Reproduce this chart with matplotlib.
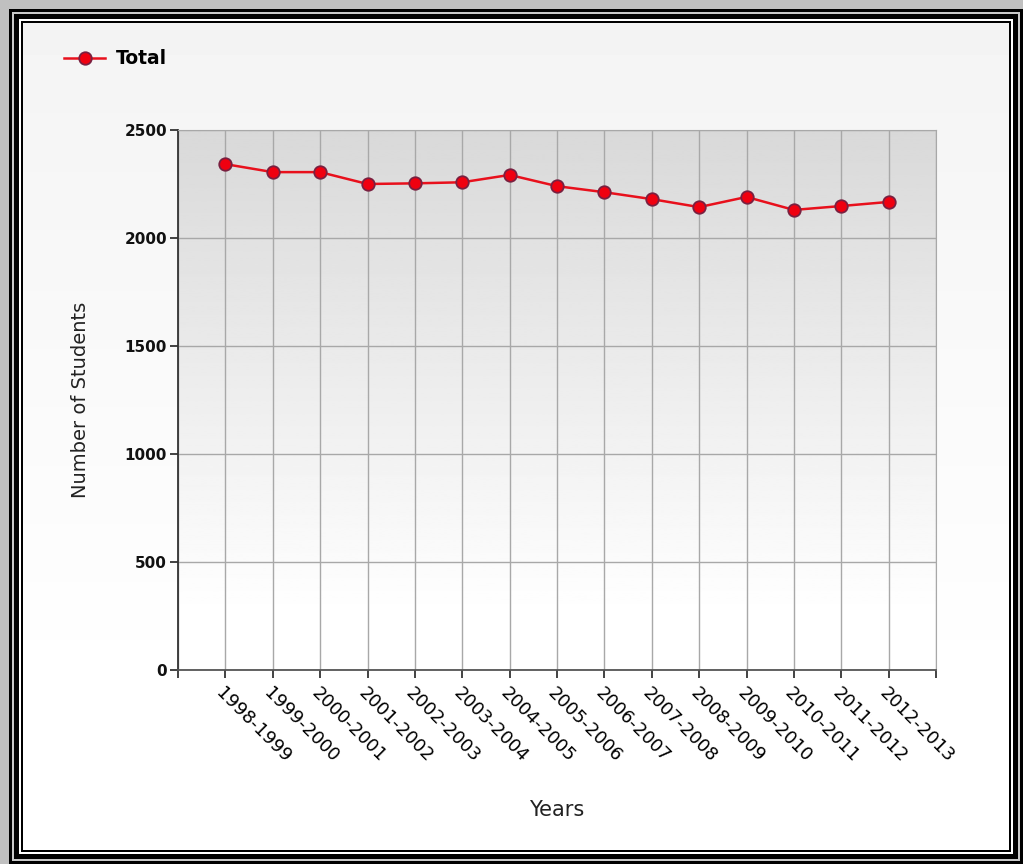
import numpy as np
import matplotlib
matplotlib.use("Agg")
import matplotlib.pyplot as plt
from matplotlib.patches import Rectangle

# Datos
years = ["1998-1999", "1999-2000", "2000-2001", "2001-2002", "2002-2003",
         "2003-2004", "2004-2005", "2005-2006", "2006-2007", "2007-2008",
         "2008-2009", "2009-2010", "2010-2011", "2011-2012", "2012-2013"]
total = [2342, 2305, 2305, 2250, 2253, 2258, 2292, 2240, 2212, 2180,
         2143, 2190, 2130, 2148, 2167]
y_ticks = [0, 500, 1000, 1500, 2000, 2500]

W, H = 1023, 864
fig = plt.figure(figsize=(W / 100, H / 100), dpi=100)
fig.patch.set_facecolor('#c0c0c0')


def px_rect(x0, y0, x1, y1, color, z):
    # rectangulo en pixeles (origen arriba a la izquierda)
    r = Rectangle((x0 / W, 1 - y1 / H), (x1 - x0) / W, (y1 - y0) / H,
                  transform=fig.transFigure, facecolor=color,
                  edgecolor='none', zorder=z)
    fig.patches.append(r)


# Marco
ox0, oy0, ox1, oy1 = 9, 9, W, H
layers = [(0, 'black'), (3, '#c8c8c8'), (5, 'black'), (10, 'white'), (12, 'black')]
for i, (inset, col) in enumerate(layers):
    px_rect(ox0 + inset, oy0 + inset, ox1 - inset, oy1 - inset, col, -20 + i)

# Fondo con degradado
cx0, cy0, cx1, cy1 = ox0 + 14, oy0 + 14, ox1 - 14, oy1 - 14
bg = fig.add_axes([cx0 / W, 1 - cy1 / H, (cx1 - cx0) / W, (cy1 - cy0) / H], zorder=-5)
t = np.linspace(0, 1, 256).reshape(-1, 1)
grad = np.clip(0.955 + 0.045 * t / 0.82, 0, 1)
bg.imshow(grad, cmap='gray', vmin=0, vmax=1, aspect='auto', extent=[0, 1, 0, 1])
bg.set_axis_off()

# Grafica principal
ax = fig.add_axes([178 / W, 1 - 670 / H, 758 / W, 540 / H])
ax.set_facecolor('none')
pgrad = np.clip(0.85 + 0.15 * t / 0.9, 0, 1)
ax.imshow(pgrad, cmap='gray', vmin=0, vmax=1, aspect='auto',
          extent=[0, 1, 0, 1], transform=ax.transAxes, zorder=0)

x = np.arange(len(years))
ax.plot(x, total, color='#e8101c', lw=1.8, marker='o', markersize=9,
        markerfacecolor='#f00010', markeredgecolor='#7a2040',
        markeredgewidth=1.3, label='Total', zorder=3)

ax.set_xlim(-1, len(years))
ax.set_ylim(0, 2500)
ax.set_xticks(np.arange(-1, len(years) + 1))
ax.set_xticklabels([''] + years + [''], rotation=-45, ha='left', va='top',
                   rotation_mode='anchor', fontsize=13, color='#000000')
ax.set_yticks(y_ticks)
ax.set_yticklabels([str(v) for v in y_ticks], fontsize=11, fontweight='bold',
                   color='#111111')
ax.tick_params(axis='both', direction='out', length=6, width=1.2, color='#222222')
ax.tick_params(axis='x', pad=4)
ax.tick_params(axis='y', pad=2)
ax.grid(True, color='#a8a8a8', lw=1)
ax.set_axisbelow(True)

for side in ['top', 'right']:
    ax.spines[side].set_color('#a8a8a8')
ax.spines['left'].set_color('#333333')
ax.spines['bottom'].set_color('#555555')
ax.spines['left'].set_linewidth(1.3)
ax.spines['bottom'].set_linewidth(1.3)

ax.set_ylabel('Number of Students', fontsize=14, color='#222222')
ax.set_xlabel('Years', fontsize=15, color='#222222')
ax.yaxis.set_label_coords(-0.116, 0.5)
ax.xaxis.set_label_coords(0.499, -0.24)

leg = fig.legend(loc='center left', bbox_to_anchor=(64 / W, 1 - 59 / H),
                 frameon=False, borderpad=0, borderaxespad=0,
                 handlelength=2.2, handletextpad=0.55,
                 prop={'weight': 'bold', 'size': 13.5})

plt.savefig('out.png', dpi=100)
